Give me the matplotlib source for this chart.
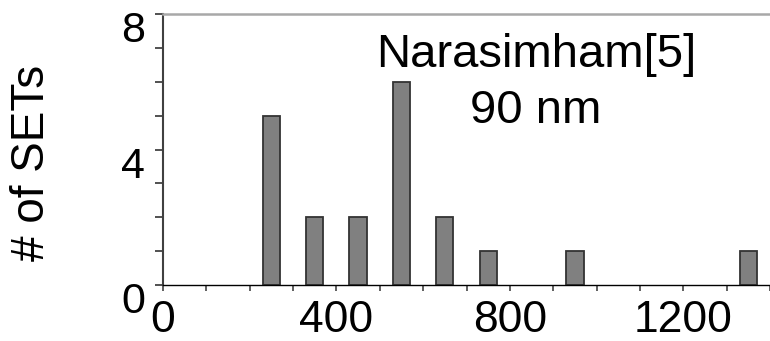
import matplotlib
matplotlib.use('Agg')
import matplotlib.pyplot as plt
from matplotlib.transforms import ScaledTranslation

plt.rcParams['font.family'] = ['Liberation Sans', 'DejaVu Sans']

# SET pulse widths (bin centres) and counts
widths = [250, 350, 450, 550, 650, 750, 950, 1350]
counts = [5, 2, 2, 6, 2, 1, 1, 1]
x_ticks = list(range(0, 1401, 100))
y_ticks = list(range(0, 9))
note_lines = ['Narasimham[5]', '90 nm']

fig = plt.figure(figsize=(7.7, 3.41), dpi=100)
ax = fig.add_axes([163/770, 56/341, 607/770, 271/341])

ax.bar(widths, counts, width=40, color='#808080', edgecolor='#333333', linewidth=1.3)

ax.set_xlim(0, 1394)
ax.set_ylim(0, 8)

ax.set_xticks(x_ticks)
ax.set_xticklabels([str(v) if v % 400 == 0 else '' for v in x_ticks], fontsize=32)
ax.set_yticks(y_ticks)
ax.set_yticklabels([str(v) if v % 4 == 0 else '' for v in y_ticks], fontsize=31)

ax.tick_params(axis='x', direction='out', length=4.3, width=1.2, color='#444444', pad=0)
ax.tick_params(axis='y', direction='out', length=6, width=1.2, color='#333333', pad=7)

# baseline-anchored tick labels, shifted down like the original
for lbl in ax.get_xticklabels():
    lbl.set_verticalalignment('baseline')
    lbl.set_transform(lbl.get_transform() + ScaledTranslation(0, -0.41, fig.dpi_scale_trans))
for lbl in ax.get_yticklabels():
    lbl.set_verticalalignment('baseline')
    lbl.set_transform(lbl.get_transform() + ScaledTranslation(0, -0.28, fig.dpi_scale_trans))

ax.spines['right'].set_visible(False)
ax.spines['top'].set_color('#a8a8a8')
ax.spines['top'].set_linewidth(1.8)
ax.spines['left'].set_color('#404040')
ax.spines['left'].set_linewidth(1.5)
ax.spines['bottom'].set_color('black')
ax.spines['bottom'].set_linewidth(1.0)

ax.set_ylabel('# of SETs', fontsize=33, va='center')
ax.yaxis.set_label_coords(-0.216, 0.452)

ax.text(0.6145, 0.8044, note_lines[0], transform=ax.transAxes,
        ha='center', va='baseline', fontsize=34)
ax.text(0.6145, 0.5978, note_lines[1], transform=ax.transAxes,
        ha='center', va='baseline', fontsize=34)

fig.savefig('out.png', dpi=100)
